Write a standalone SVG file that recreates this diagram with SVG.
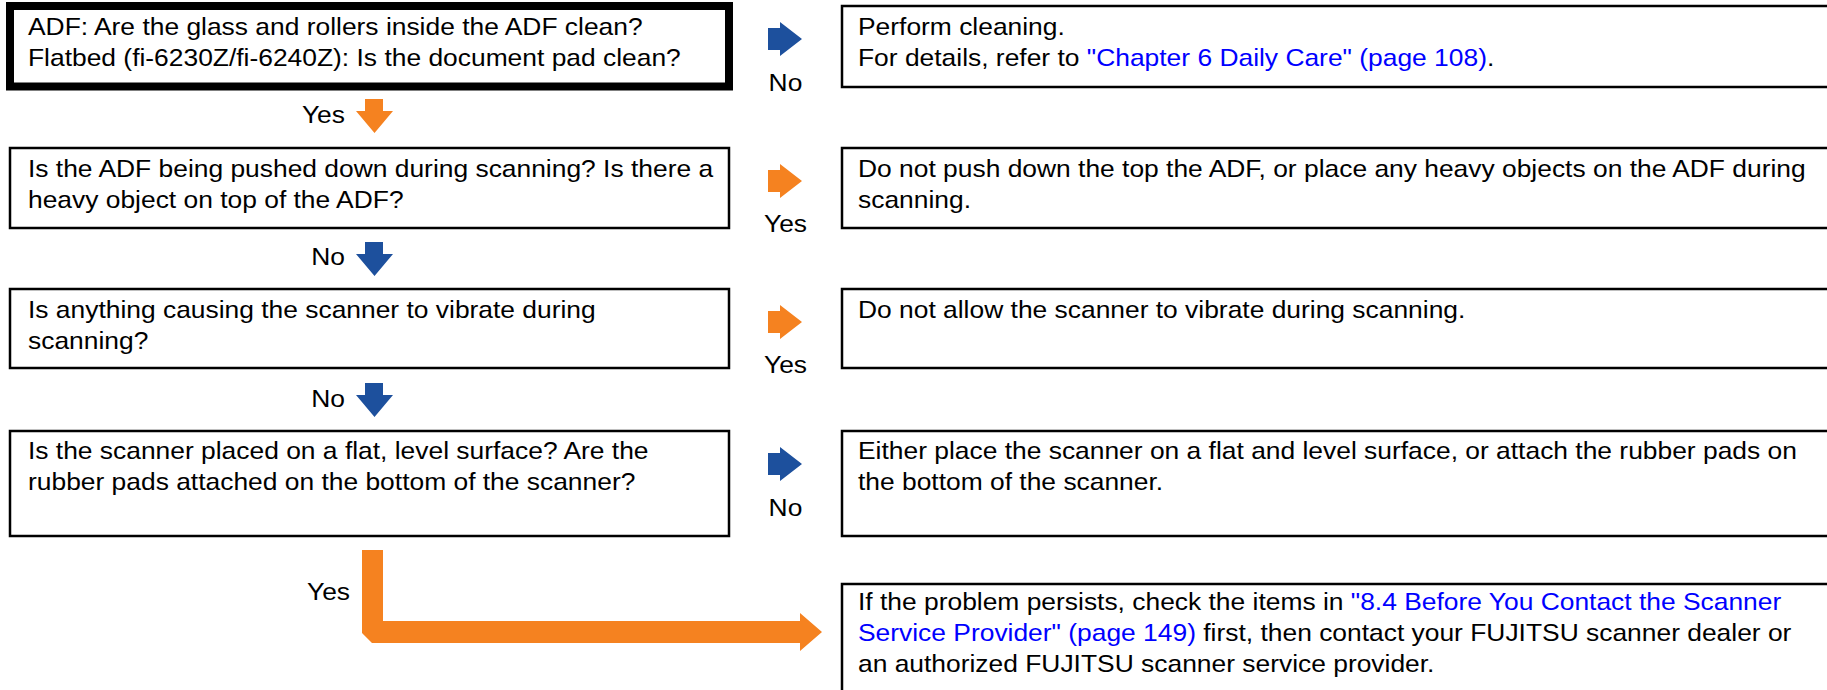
<svg xmlns="http://www.w3.org/2000/svg" xmlns:xlink="http://www.w3.org/1999/xlink" width="1827" height="690" viewBox="0 0 1827 690">
<style>
.box{fill:#fff;stroke:#000;stroke-width:2.5}
.thick{fill:#fff;stroke:#000;stroke-width:8}
.t{font-family:"Liberation Sans",Arial,Helvetica,sans-serif;font-size:24px;fill:#000}
.lnk{fill:#0000ff}
.or{fill:#f58220}
.bl{fill:#1d509d}
.e{text-anchor:end}
.m{text-anchor:middle}
</style>
<defs>
<polygon id="ra" points="0,22 12,22 12,16 34,33 12,50 12,44 0,44"/>
<polygon id="da" points="9,0 27,0 27,12 37,12 18.5,34 0,12 9,12"/>
</defs>
<rect width="1827" height="690" fill="#fff"/>
<g id="connectors">
<use xlink:href="#da" class="or" transform="translate(356,99)"/>
<text class="t e" transform="scale(1.1,1)" x="313.6" y="123">Yes</text>
<use xlink:href="#da" class="bl" transform="translate(356,242)"/>
<text class="t e" transform="scale(1.1,1)" x="313.6" y="265">No</text>
<use xlink:href="#da" class="bl" transform="translate(356,383)"/>
<text class="t e" transform="scale(1.1,1)" x="313.6" y="407">No</text>
<use xlink:href="#ra" class="bl" transform="translate(768,6)"/>
<text class="t m" transform="scale(1.1,1)" x="714.1" y="91">No</text>
<use xlink:href="#ra" class="or" transform="translate(768,148)"/>
<text class="t m" transform="scale(1.1,1)" x="714.1" y="232">Yes</text>
<use xlink:href="#ra" class="or" transform="translate(768,289)"/>
<text class="t m" transform="scale(1.1,1)" x="714.1" y="373">Yes</text>
<use xlink:href="#ra" class="bl" transform="translate(768,431)"/>
<text class="t m" transform="scale(1.1,1)" x="714.1" y="516">No</text>
<polygon class="or" points="362,550 383,550 383,621 800,621 800,613 822,632 800,651 800,643 372,643 362,633"/>
<text class="t e" transform="scale(1.1,1)" x="318.2" y="600">Yes</text>
</g>
<g id="q1">
<rect class="thick" x="10" y="6" width="719" height="80.5"/>
<text class="t" transform="scale(1.1,1)" x="25.45" y="35">ADF: Are the glass and rollers inside the ADF clean?</text>
<text class="t" transform="scale(1.1,1)" x="25.45" y="66">Flatbed (fi-6230Z/fi-6240Z): Is the document pad clean?</text>
</g>
<g id="a1">
<rect class="box" x="842" y="6" width="1000" height="81"/>
<text class="t" transform="scale(1.1,1)" x="780" y="35">Perform cleaning.</text>
<text class="t" transform="scale(1.1,1)" x="780" y="66">For details, refer to <tspan class="lnk">"Chapter 6 Daily Care" (page 108)</tspan>.</text>
</g>
<g id="q2">
<rect class="box" x="10" y="148" width="719" height="80"/>
<text class="t" transform="scale(1.1,1)" x="25.45" y="177">Is the ADF being pushed down during scanning? Is there a</text>
<text class="t" transform="scale(1.1,1)" x="25.45" y="208">heavy object on top of the ADF?</text>
</g>
<g id="a2">
<rect class="box" x="842" y="148" width="1000" height="80"/>
<text class="t" transform="scale(1.1,1)" x="780" y="177">Do not push down the top the ADF, or place any heavy objects on the ADF during</text>
<text class="t" transform="scale(1.1,1)" x="780" y="208">scanning.</text>
</g>
<g id="q3">
<rect class="box" x="10" y="289" width="719" height="79"/>
<text class="t" transform="scale(1.1,1)" x="25.45" y="318">Is anything causing the scanner to vibrate during</text>
<text class="t" transform="scale(1.1,1)" x="25.45" y="349">scanning?</text>
</g>
<g id="a3">
<rect class="box" x="842" y="289" width="1000" height="79"/>
<text class="t" transform="scale(1.1,1)" x="780" y="318">Do not allow the scanner to vibrate during scanning.</text>
</g>
<g id="q4">
<rect class="box" x="10" y="431" width="719" height="105"/>
<text class="t" transform="scale(1.1,1)" x="25.45" y="459">Is the scanner placed on a flat, level surface? Are the</text>
<text class="t" transform="scale(1.1,1)" x="25.45" y="490">rubber pads attached on the bottom of the scanner?</text>
</g>
<g id="a4">
<rect class="box" x="842" y="431" width="1000" height="105"/>
<text class="t" transform="scale(1.1,1)" x="780" y="459">Either place the scanner on a flat and level surface, or attach the rubber pads on</text>
<text class="t" transform="scale(1.1,1)" x="780" y="490">the bottom of the scanner.</text>
</g>
<g id="a5">
<rect class="box" x="842" y="584" width="1000" height="120"/>
<text class="t" transform="scale(1.1,1)" x="780" y="610">If the problem persists, check the items in <tspan class="lnk">"8.4 Before You Contact the Scanner</tspan></text>
<text class="t" transform="scale(1.1,1)" x="780" y="641"><tspan class="lnk">Service Provider" (page 149)</tspan> first, then contact your FUJITSU scanner dealer or</text>
<text class="t" transform="scale(1.1,1)" x="780" y="672">an authorized FUJITSU scanner service provider.</text>
</g>
</svg>
